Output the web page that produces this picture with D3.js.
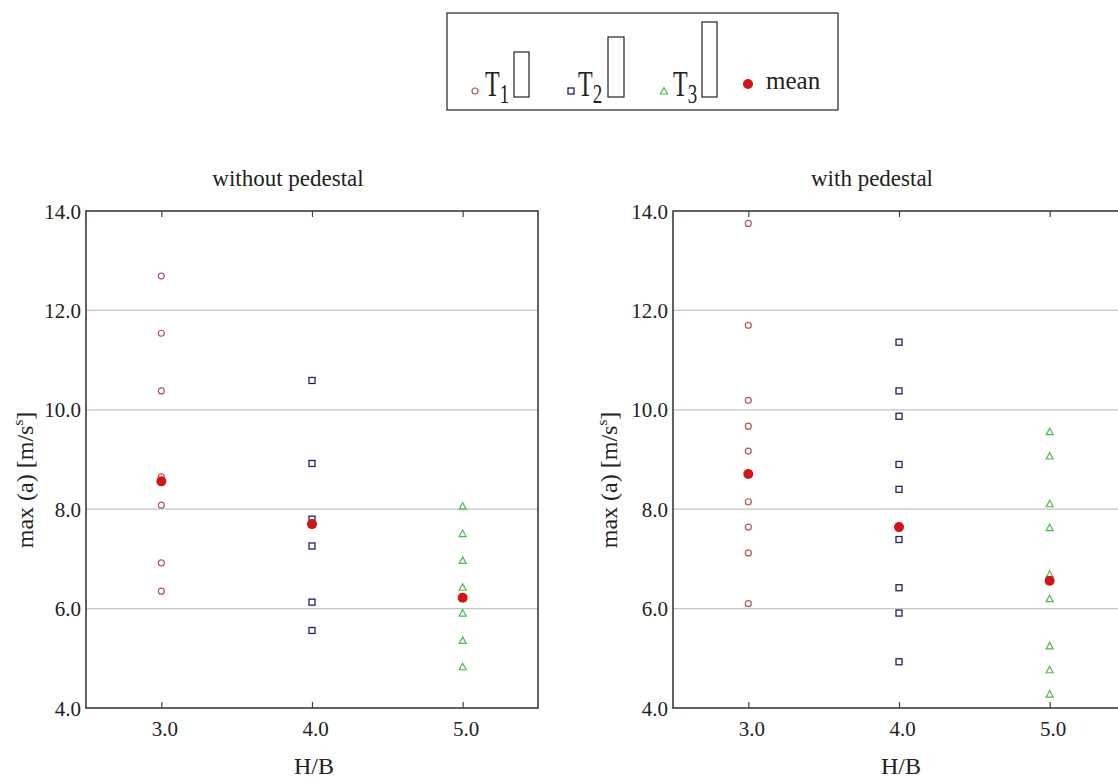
<!DOCTYPE html>
<html>
<head>
<meta charset="utf-8">
<script src="https://cdn.jsdelivr.net/npm/d3@7"></script>
<style>
  html, body { margin: 0; padding: 0; background: #fff; }
  svg { display: block; font-family: "Liberation Serif", "Times New Roman", serif; }
</style>
</head>
<body>
<svg id="chart" width="1118" height="779"></svg>
<script>
// ---------- data ----------
const categories = [3.0, 4.0, 5.0];
const yTickValues = [4, 6, 8, 10, 12, 14];
const panelTitles = ["without pedestal", "with pedestal"];
const xLabel = "H/B";
const seriesNames = ["T1", "T2", "T3", "mean"];

// without pedestal
const t1Without = [12.69, 11.54, 10.38, 8.65, 8.08, 6.92, 6.35];
const t2Without = [10.59, 8.92, 7.80, 7.26, 6.13, 5.56];
const t3Without = [8.06, 7.51, 6.97, 6.43, 5.91, 5.36, 4.83];
const meanWithout = [8.56, 7.70, 6.22];

// with pedestal
const t1With = [13.75, 11.70, 10.19, 9.67, 9.17, 8.15, 7.64, 7.12, 6.10];
const t2With = [11.36, 10.38, 9.87, 8.90, 8.40, 7.39, 6.42, 5.91, 4.93];
const t3With = [9.56, 9.07, 8.11, 7.63, 6.69, 6.20, 5.25, 4.77, 4.28];
const meanWith = [8.71, 7.64, 6.56];

// ---------- drawing ----------
const svg = d3.select("#chart");
const colors = { T1: "#b05a5a", T2: "#22225e", T3: "#4cbb4c", mean: "#d41414" };

const panels = [
  { title: panelTitles[0], left: 86, titleX: 288, ylabX: 33,
    t1: t1Without, t2: t2Without, t3: t3Without, mean: meanWithout },
  { title: panelTitles[1], left: 673, titleX: 872, ylabX: 617,
    t1: t1With, t2: t2With, t3: t3With, mean: meanWith }
];

const plotW = 452, plotTop = 211, plotBottom = 708;

function drawMarker(g, type, cx, cy) {
  if (type === "T1") {
    g.append("circle").attr("cx", cx).attr("cy", cy).attr("r", 3)
      .attr("fill", "none").attr("stroke", colors.T1).attr("stroke-width", 1.2);
  } else if (type === "T2") {
    g.append("rect").attr("x", cx - 3).attr("y", cy - 3).attr("width", 6).attr("height", 6)
      .attr("fill", "none").attr("stroke", colors.T2).attr("stroke-width", 1.3);
  } else if (type === "T3") {
    g.append("path").attr("d", `M${cx},${cy - 3.5}L${cx + 3.5},${cy + 3}L${cx - 3.5},${cy + 3}Z`)
      .attr("fill", "none").attr("stroke", colors.T3).attr("stroke-width", 1.2);
  } else {
    g.append("circle").attr("cx", cx).attr("cy", cy).attr("r", 5)
      .attr("fill", colors.mean).attr("stroke", "none");
  }
}

panels.forEach(p => {
  const x = d3.scaleLinear().domain([2.5, 5.5]).range([p.left, p.left + plotW]);
  const y = d3.scaleLinear().domain([4, 14]).range([plotBottom, plotTop]);
  const g = svg.append("g");

  // gridlines
  g.append("g").selectAll("line").data(yTickValues.filter(v => v > 4 && v < 14)).join("line")
    .attr("x1", x.range()[0]).attr("x2", x.range()[1])
    .attr("y1", d => y(d)).attr("y2", d => y(d))
    .attr("stroke", "#c4c4c4").attr("stroke-width", 1.2);

  // y tick labels
  const ya = g.append("g").attr("transform", `translate(${p.left},0)`)
    .call(d3.axisLeft(y).tickValues(yTickValues).tickSize(0).tickPadding(5).tickFormat(d3.format(".1f")));
  ya.select(".domain").remove();
  ya.selectAll("text").attr("font-size", 21).attr("fill", "#222")
    .attr("font-family", "Liberation Serif, Times New Roman, serif").attr("dy", "0.34em");

  // bottom axis
  const xb = g.append("g").attr("transform", `translate(0,${plotBottom})`)
    .call(d3.axisBottom(x).tickValues(categories).tickSizeInner(-6).tickSizeOuter(0).tickFormat(d3.format(".1f")));
  xb.select(".domain").remove();
  xb.selectAll("line").attr("stroke", "#444").attr("stroke-width", 1.2);
  xb.selectAll("text").attr("font-size", 21).attr("fill", "#222")
    .attr("font-family", "Liberation Serif, Times New Roman, serif")
    .attr("y", 28).attr("dy", 0).attr("dx", 3);

  // top axis ticks
  const xt = g.append("g").attr("transform", `translate(0,${plotTop})`)
    .call(d3.axisTop(x).tickValues(categories).tickSizeInner(-6).tickSizeOuter(0).tickFormat(""));
  xt.select(".domain").remove();
  xt.selectAll("line").attr("stroke", "#444").attr("stroke-width", 1.2);

  // frame
  g.append("rect").attr("x", x.range()[0]).attr("y", plotTop)
    .attr("width", plotW).attr("height", plotBottom - plotTop)
    .attr("fill", "none").attr("stroke", "#3a3a3a").attr("stroke-width", 1.6);

  // points
  const pts = g.append("g");
  p.t1.forEach(v => drawMarker(pts, "T1", x(categories[0]), y(v)));
  p.t2.forEach(v => drawMarker(pts, "T2", x(categories[1]), y(v)));
  p.t3.forEach(v => drawMarker(pts, "T3", x(categories[2]), y(v)));
  p.mean.forEach((v, i) => drawMarker(pts, "mean", x(categories[i]), y(v)));

  // title
  g.append("text").attr("x", p.titleX).attr("y", 186).attr("text-anchor", "middle")
    .attr("font-size", 23).attr("fill", "#222").text(p.title);

  // x label
  g.append("text").attr("x", x(4.0) + 2).attr("y", 774).attr("text-anchor", "middle")
    .attr("font-size", 24).attr("fill", "#222").text(xLabel);

  // y label
  const yl = g.append("text").attr("transform", `translate(${p.ylabX},480) rotate(-90)`)
    .attr("text-anchor", "middle").attr("font-size", 24).attr("fill", "#222");
  yl.append("tspan").text("max (a) [m/s");
  yl.append("tspan").attr("font-size", 15).attr("dy", -10).text("s");
  yl.append("tspan").attr("dy", 10).text("]");
});

// ---------- legend ----------
const lg = svg.append("g");
lg.append("rect").attr("x", 447).attr("y", 13).attr("width", 391).attr("height", 97)
  .attr("fill", "#fff").attr("stroke", "#222").attr("stroke-width", 1.2);

const legendItems = [
  { key: "T1", mx: 475, tx: 485, sub: "1", bar: [514, 52, 15, 45] },
  { key: "T2", mx: 571, tx: 578, sub: "2", bar: [608, 37, 16, 60] },
  { key: "T3", mx: 664, tx: 673, sub: "3", bar: [702, 22, 15, 75] }
];
legendItems.forEach(it => {
  drawMarker(lg, it.key, it.mx, 91);
  const t = lg.append("text").attr("transform", `translate(${it.tx},96) scale(1,1.45)`)
    .attr("font-size", 24).attr("fill", "#222");
  t.append("tspan").text("T");
  t.append("tspan").attr("font-size", 19).attr("dy", 5).text(it.sub);
  lg.append("rect").attr("x", it.bar[0]).attr("y", it.bar[1]).attr("width", it.bar[2]).attr("height", it.bar[3])
    .attr("fill", "none").attr("stroke", "#222").attr("stroke-width", 1.2);
});
drawMarker(lg, "mean", 748, 84);
lg.append("text").attr("x", 766).attr("y", 89).attr("font-size", 25).attr("fill", "#222").text(seriesNames[3]);
</script>
</body>
</html>
